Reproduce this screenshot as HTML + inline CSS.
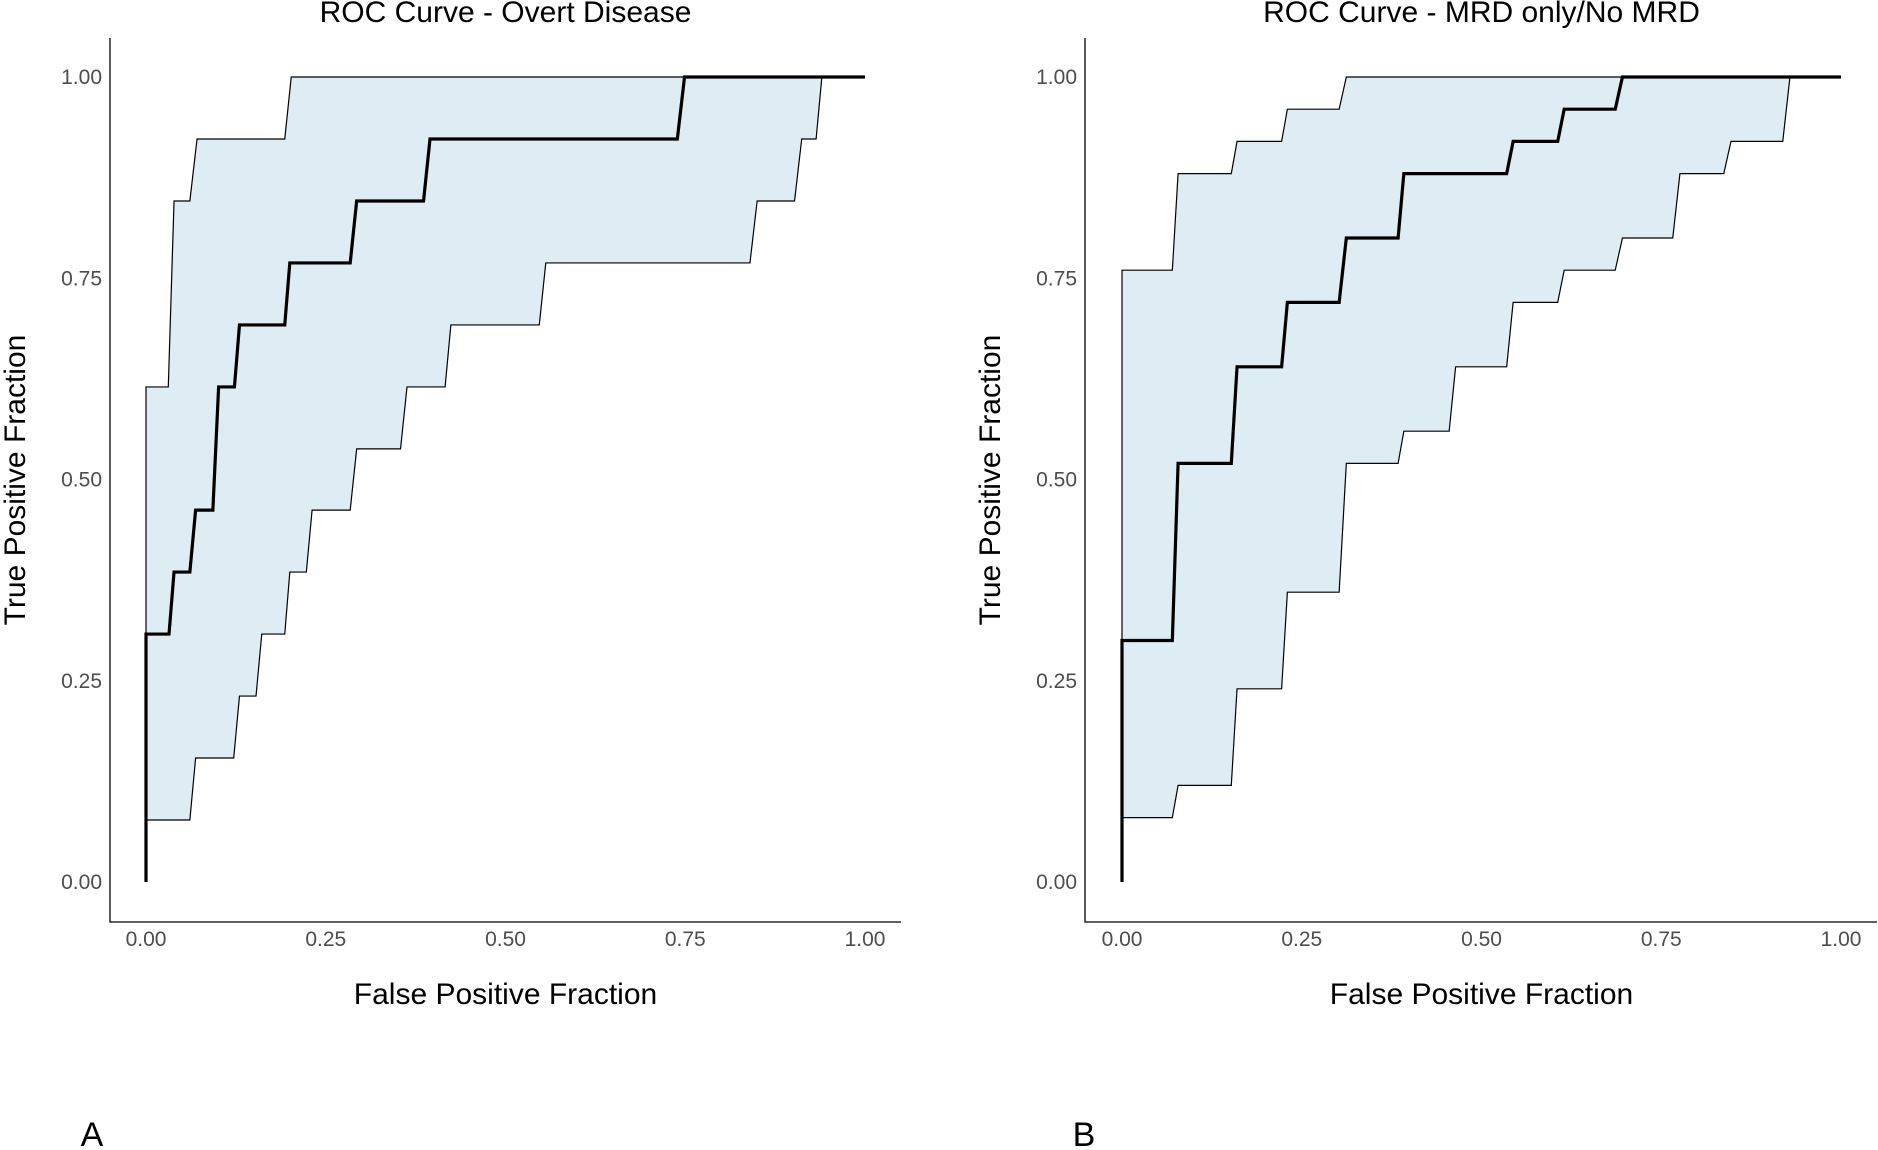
<!DOCTYPE html>
<html><head><meta charset="utf-8"><style>
html,body{margin:0;padding:0;background:#fff;}
svg{display:block;font-family:"Liberation Sans",Arial,sans-serif;}
</style></head><body>
<svg id="fig" width="1878" height="1150" viewBox="0 0 1878 1150" xmlns="http://www.w3.org/2000/svg"></svg>
<script>
// Panel A data
const aFpr = [0,0,0.032,0.039,0.061,0.069,0.093,0.101,0.123,0.130,0.193,0.200,0.284,0.293,0.386,0.395,0.739,0.749,1];
const aTpr = [0,0.308,0.308,0.385,0.385,0.462,0.462,0.615,0.615,0.692,0.692,0.769,0.769,0.846,0.846,0.923,0.923,1,1];
const aUpFpr = [0,0,0.031,0.039,0.061,0.071,0.193,0.202,0.940];
const aUpTpr = [0.077,0.615,0.615,0.846,0.846,0.923,0.923,1,1];
const aLoFpr = [0,0.061,0.069,0.122,0.130,0.153,0.161,0.193,0.200,0.223,0.231,0.284,0.293,0.354,0.363,0.416,0.424,0.547,0.556,0.840,0.850,0.902,0.912,0.932,0.940];
const aLoTpr = [0.077,0.077,0.154,0.154,0.231,0.231,0.308,0.308,0.385,0.385,0.462,0.462,0.538,0.538,0.615,0.615,0.692,0.692,0.769,0.769,0.846,0.846,0.923,0.923,1];
// Panel B data
const bFpr = [0,0,0.070,0.078,0.152,0.160,0.222,0.230,0.302,0.312,0.384,0.392,0.535,0.544,0.606,0.615,0.686,0.696,1];
const bTpr = [0,0.30,0.30,0.52,0.52,0.64,0.64,0.72,0.72,0.80,0.80,0.88,0.88,0.92,0.92,0.96,0.96,1,1];
const bUpFpr = [0,0,0.070,0.078,0.152,0.160,0.222,0.230,0.302,0.312,0.929];
const bUpTpr = [0.08,0.76,0.76,0.88,0.88,0.92,0.92,0.96,0.96,1,1];
const bLoFpr = [0,0.070,0.078,0.152,0.160,0.222,0.230,0.302,0.312,0.384,0.392,0.455,0.464,0.535,0.544,0.606,0.615,0.686,0.696,0.766,0.776,0.837,0.847,0.919,0.929];
const bLoTpr = [0.08,0.08,0.12,0.12,0.24,0.24,0.36,0.36,0.52,0.52,0.56,0.56,0.64,0.64,0.72,0.72,0.76,0.76,0.80,0.80,0.88,0.88,0.92,0.92,1];
const tickVals = [0,0.25,0.5,0.75,1];
const tickLabels = ["0.00","0.25","0.50","0.75","1.00"];

const NS="http://www.w3.org/2000/svg";
const svg=document.getElementById('fig');
function mk(tag,attrs,parent){const e=document.createElementNS(NS,tag);for(const k in attrs)e.setAttribute(k,attrs[k]);(parent||svg).appendChild(e);return e;}

function panel(cfg){
  const g=mk('g',{});
  
  
  const X=v=>cfg.x0+v*(cfg.x1-cfg.x0);
  const Y=v=>882+v*(77-882);
  let pts=[];
  for(let i=0;i<cfg.upF.length;i++)pts.push(X(cfg.upF[i])+','+Y(cfg.upT[i]));
  for(let i=cfg.loF.length-1;i>=0;i--)pts.push(X(cfg.loF[i])+','+Y(cfg.loT[i]));
  const band=mk('polygon',{points:pts.join(' '),fill:'#ddedf3',stroke:'#000','stroke-width':1.2},g);
  
  
  let cp=[];
  for(let i=0;i<cfg.f.length;i++)cp.push(X(cfg.f[i])+','+Y(cfg.t[i]));
  const curve=mk('polyline',{points:cp.join(' '),fill:'none',stroke:'#000','stroke-width':3.2},g);
  
  
  const ax=mk('path',{d:`M${cfg.ax} 38 V922 H${cfg.axr}`,fill:'none',stroke:'#000','stroke-width':1.3},g);
  
  
  for(let i=0;i<tickVals.length;i++){
    const ty=mk('text',{x:cfg.ax-8,y:Y(tickVals[i])+7,'text-anchor':'end','font-size':21,fill:'#4d4d4d'},g);
    ty.textContent=tickLabels[i];
    
    
    const tx=mk('text',{x:X(tickVals[i]),y:946,'text-anchor':'middle','font-size':21,fill:'#4d4d4d'},g);
    tx.textContent=tickLabels[i];
    
    
  }
  const xt=mk('text',{x:(cfg.x0+cfg.x1)/2,y:1004,'text-anchor':'middle','font-size':30,fill:'#000'},g);
  xt.textContent='False Positive Fraction';
  
  
  const yt=mk('text',{x:0,y:0,'text-anchor':'middle','font-size':30,fill:'#000',transform:`translate(${cfg.ytx},480) rotate(-90)`},g);
  yt.textContent='True Positive Fraction';
  
  
  const tt=mk('text',{x:(cfg.x0+cfg.x1)/2,y:22,'text-anchor':'middle','font-size':30,fill:'#000'},g);
  tt.textContent=cfg.title;
  
  
  const lb=mk('text',{x:cfg.lx,y:1146,'text-anchor':'middle','font-size':34,fill:'#000'},g);
  lb.textContent=cfg.letter;
  
  
}
panel({id:'overt-disease',x0:146,x1:865,ax:110,axr:901,ytx:25,lx:92,letter:'A',title:'ROC Curve - Overt Disease',
  f:aFpr,t:aTpr,upF:aUpFpr,upT:aUpTpr,loF:aLoFpr,loT:aLoTpr});
panel({id:'mrd',x0:1122,x1:1841,ax:1085,axr:1877,ytx:1000,lx:1084,letter:'B',title:'ROC Curve - MRD only/No MRD',
  f:bFpr,t:bTpr,upF:bUpFpr,upT:bUpTpr,loF:bLoFpr,loT:bLoTpr});
</script>
</body></html>
